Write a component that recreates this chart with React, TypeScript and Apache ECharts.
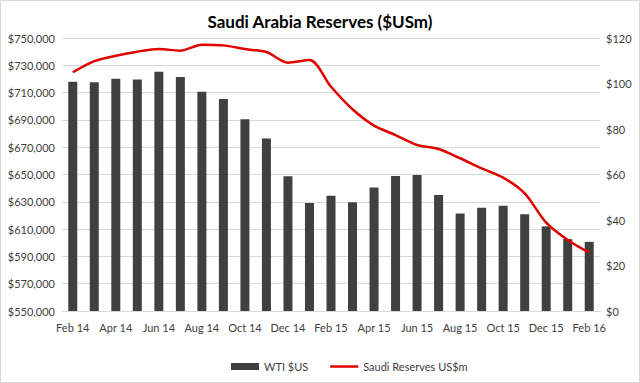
import React, { useEffect, useRef } from "react";
import * as echarts from "echarts";

const categories = [
  "Feb 14", "Mar 14", "Apr 14", "May 14", "Jun 14", "Jul 14", "Aug 14", "Sep 14", "Oct 14", "Nov 14", "Dec 14",
  "Jan 15", "Feb 15", "Mar 15", "Apr 15", "May 15", "Jun 15", "Jul 15", "Aug 15", "Sep 15", "Oct 15", "Nov 15", "Dec 15",
  "Jan 16", "Feb 16",
];
const wti = [
  100.8, 100.5, 102.1, 101.8, 105.2, 102.9, 96.4, 93.2, 84.3, 75.8, 59.2,
  47.5, 50.7, 47.8, 54.3, 59.3, 59.8, 51.0, 42.9, 45.4, 46.3, 42.5, 37.2,
  31.6, 30.4,
];
const reserves = [
  724900, 733100, 737000, 740000, 741900, 740700, 745100, 744600, 741900, 739700, 731900,
  733800, 714300, 697800, 685800, 678900, 671600, 668700, 661900, 654500, 647700, 636200, 614700,
  602000, 592700,
];

const FONT = "Lato, 'Open Sans', sans-serif";

export default function App() {
  const ref = useRef<HTMLDivElement>(null);
  useEffect(() => {
    document.body.style.margin = "0";
    const chart = echarts.init(ref.current!, null, { renderer: "svg" });
    chart.setOption({
      animation: false,
      backgroundColor: "#ffffff",
      textStyle: { fontFamily: FONT },
      title: {
        text: "Saudi Arabia Reserves ($USm)",
        left: "center",
        top: 8,
        textStyle: { fontFamily: FONT, fontSize: 17, fontWeight: "bold", color: "#000" },
      },
      graphic: [
        {
          type: "rect",
          shape: { x: 0.5, y: 0.5, width: 639, height: 382 },
          style: { fill: "none", stroke: "#d9d9d9", lineWidth: 1 },
          silent: true,
        },
      ],
      grid: { left: 62, right: 40, top: 38, bottom: 72 },
      legend: {
        bottom: 6,
        left: 226,
        itemWidth: 28,
        itemHeight: 7,
        itemGap: 22,
        textStyle: { fontFamily: FONT, fontSize: 11, color: "#404040" },
        data: [
          { name: "WTI $US", icon: "rect" },
          { name: "Saudi Reserves US$m", icon: "path://M0,0 H28 V2.5 H0 Z", itemStyle: { color: "#e00000" } },
        ],
      },
      xAxis: {
        type: "category",
        data: categories,
        axisTick: { show: false },
        axisLine: { show: true, lineStyle: { color: "#d9d9d9" } },
        axisLabel: { interval: 1, fontFamily: FONT, fontSize: 11, color: "#404040", margin: 11 },
      },
      yAxis: [
        {
          type: "value",
          min: 550000,
          max: 750000,
          interval: 20000,
          position: "left",
          axisLine: { show: false },
          axisTick: { show: false },
          splitLine: { lineStyle: { color: "#d9d9d9" } },
          axisLabel: {
            fontFamily: FONT,
            fontSize: 11,
            color: "#404040",
            margin: 7,
            formatter: (v: number) => "$" + v.toLocaleString("en-US"),
          },
        },
        {
          type: "value",
          min: 0,
          max: 120,
          interval: 20,
          position: "right",
          axisLine: { show: false },
          axisTick: { show: false },
          splitLine: { show: false },
          axisLabel: {
            fontFamily: FONT,
            fontSize: 11,
            color: "#404040",
            margin: 6,
            formatter: (v: number) => "$" + v,
          },
        },
      ],
      series: [
        {
          name: "WTI $US",
          type: "bar",
          yAxisIndex: 1,
          data: wti,
          barWidth: 9,
          itemStyle: { color: "#404040" },
        },
        {
          name: "Saudi Reserves US$m",
          type: "line",
          yAxisIndex: 0,
          data: reserves,
          smooth: 0.3,
          symbol: "none",
          lineStyle: { color: "#e00000", width: 2.5 },
          itemStyle: { color: "#e00000" },
        },
      ],
    });
    return () => chart.dispose();
  }, []);
  return <div ref={ref} style={{ width: 640, height: 383 }} />;
}
